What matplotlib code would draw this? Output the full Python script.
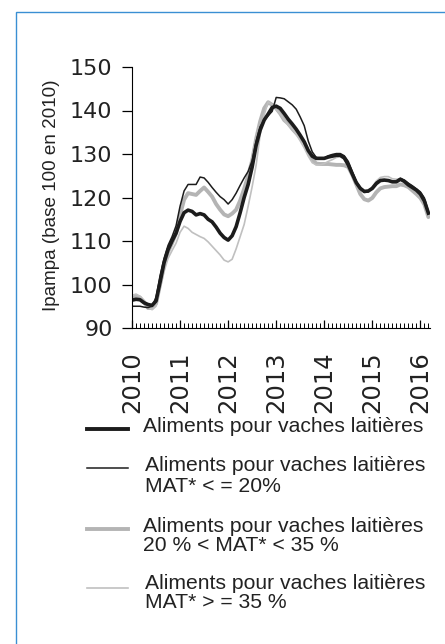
import matplotlib
matplotlib.use("Agg")
import matplotlib.pyplot as plt
from matplotlib.lines import Line2D
from matplotlib.patches import Rectangle
import numpy as np

plt.rcParams['font.family'] = ['Liberation Sans', 'DejaVu Sans']

# monthly index values, Jan 2010 -> Mar 2016
ensemble = [96.4, 96.6, 96.5, 95.8, 95.4, 95.2, 96.2, 100.5, 105.0, 108.0, 110.0, 111.8,
            114.5, 116.5, 117.1, 116.8, 116.0, 116.3, 116.0, 115.0, 114.4, 113.2, 111.8, 110.8,
            110.2, 111.2, 113.3, 116.5, 120.0, 123.0, 127.0, 132.0, 135.5, 137.8, 139.2, 140.7,
            141.0, 140.5, 139.3, 138.0, 136.9, 135.7, 134.3, 132.8, 130.8, 129.5, 129.0, 129.0,
            129.0, 129.3, 129.5, 129.7, 129.7, 129.1, 127.5, 125.4, 123.4, 122.1, 121.4, 121.5,
            122.1, 123.2, 123.9, 124.0, 123.9, 123.6, 123.6, 124.2, 123.7, 122.9, 122.3, 121.7,
            120.8, 119.2, 116.4]
mat_20 = [95.0, 95.0, 95.0, 94.8, 94.7, 95.0, 97.0, 102.0, 106.0, 109.0, 111.0, 113.5,
          118.0, 121.5, 123.0, 123.0, 123.0, 124.7, 124.5, 123.5, 122.3, 121.2, 120.2, 119.5,
          118.5, 119.5, 121.0, 122.8, 124.5, 126.0, 128.5, 133.0, 136.3, 137.8, 138.8, 139.8,
          143.0, 142.9, 142.7, 142.0, 141.3, 140.3, 138.5, 136.5, 133.0, 130.5, 129.2, 129.0,
          129.1, 129.6, 129.9, 130.1, 130.1, 129.6, 128.3, 126.0, 123.7, 122.3, 121.2, 121.3,
          122.3, 123.5, 124.1, 124.1, 124.0, 123.7, 123.6, 124.4, 124.0, 123.3, 122.7, 122.0,
          121.3, 119.9, 116.8]
mat_20_35 = [96.8, 97.3, 97.0, 96.0, 94.6, 94.6, 95.6, 100.0, 104.5, 107.5, 109.5, 111.8,
             116.0, 119.5, 121.0, 120.8, 120.6, 121.5, 122.3, 121.3, 120.2, 118.5, 117.2, 116.1,
             115.7, 116.3, 117.2, 119.3, 122.0, 125.0, 128.5, 133.5, 137.5, 140.5, 141.9, 141.3,
             140.5, 139.3, 137.8, 137.0, 135.8, 134.8, 133.8, 132.6, 130.5, 128.8, 127.8, 127.7,
             127.7, 127.7, 127.6, 127.5, 127.5, 127.4, 127.0, 125.2, 123.0, 120.8, 119.6, 119.3,
             119.9, 121.2, 122.1, 122.4, 122.5, 122.6, 122.6, 123.0, 122.8, 122.4, 121.6, 120.8,
             119.9, 118.4, 115.5]
mat_35 = [97.5, 97.8, 97.3, 96.0, 95.2, 94.2, 95.0, 99.0, 103.0, 106.0, 107.8, 109.5,
          112.0, 113.4, 112.9, 112.0, 111.5, 111.0, 110.6, 109.8, 108.8, 107.8, 106.8, 105.6,
          105.2, 105.8, 108.2, 111.0, 113.8, 118.0, 122.5, 127.5, 134.5, 139.0, 142.0, 141.3,
          140.2, 139.2, 137.8, 136.6, 135.8, 134.5, 133.0, 131.4, 129.5, 128.0, 127.5, 127.5,
          127.8, 128.3, 128.7, 129.2, 129.4, 128.8, 127.3, 125.2, 123.2, 121.9, 121.1, 121.3,
          122.5, 123.8, 124.6, 124.8, 124.8, 124.3, 124.2, 124.3, 123.8, 123.0, 122.2, 121.5,
          120.5, 118.7, 116.0]

years = [2010, 2011, 2012, 2013, 2014, 2015, 2016]
labels = ["Aliments pour vaches laitières",
          "Aliments pour vaches laitières\nMAT* < = 20%",
          "Aliments pour vaches laitières\n20 % < MAT* < 35 %",
          "Aliments pour vaches laitières\nMAT* > = 35 %"]

t = 2010 + np.arange(len(ensemble)) / 12

W, H = 445, 644
fig = plt.figure(figsize=(W / 100, H / 100), dpi=100)

def fx(px):
    return px / W

def fy(py):
    return 1 - py / H

ax = fig.add_axes([fx(132), fy(328), fx(430) - fx(132), fy(67) - fy(328)])

ax.plot(t, mat_20_35, color='#b4b4b4', lw=2.8, solid_capstyle='round')
ax.plot(t, mat_35, color='#c0c0c0', lw=1.2)
ax.plot(t, ensemble, color='#1c1c1c', lw=2.6)
ax.plot(t, mat_20, color='#1c1c1c', lw=1.1)

ax.set_xlim(2010, 2016.2)
ax.set_ylim(90, 150)
ax.set_yticks(range(90, 151, 10))
ax.set_xticks(years)
ax.set_xticklabels([str(y) for y in years], rotation=90)
ax.set_xticks(np.arange(2010, 2016.2, 1 / 12), minor=True)
ax.spines[['top', 'right']].set_visible(False)
ax.tick_params(axis='y', direction='out', length=7, width=0.9, labelsize=16, pad=7)
ax.tick_params(axis='x', which='major', direction='in', length=6, width=0.9, labelsize=17.5, pad=17)
ax.tick_params(axis='x', which='minor', direction='in', length=3.5, width=0.7)
for lab in ax.get_xticklabels() + ax.get_yticklabels():
    lab.set_family('DejaVu Sans')
    lab.set_color('#222222')
ax.set_ylabel("Ipampa (base 100 en 2010)", fontsize=13.6, color='#222222')
ax.yaxis.set_label_coords(-0.242, 0.51)

# legend drawn by hand
colors = ['#1c1c1c', '#1c1c1c', '#b4b4b4', '#c0c0c0']
widths = [2.8, 1.1, 2.8, 1.2]
line_y = [429, 468, 529, 588]
text_y = [427, 476, 536, 593]
text_x = [143, 145, 143, 145]
spacing = [1.0, 1.18, 0.98, 0.98]
for i in range(4):
    fig.add_artist(Line2D([fx(87), fx(128)], [fy(line_y[i])] * 2,
                          color=colors[i], lw=widths[i]))
    fig.text(fx(text_x[i]), fy(text_y[i]), labels[i], fontsize=15.2,
             va='center', ha='left', color='#222222', linespacing=spacing[i])

# frame
fig.add_artist(Rectangle((fx(16), fy(H + 5)), 1, fy(12) - fy(H + 5),
                         transform=fig.transFigure, fill=False,
                         edgecolor='#3a8fd3', lw=1.0))

fig.savefig("out.png", dpi=100)
